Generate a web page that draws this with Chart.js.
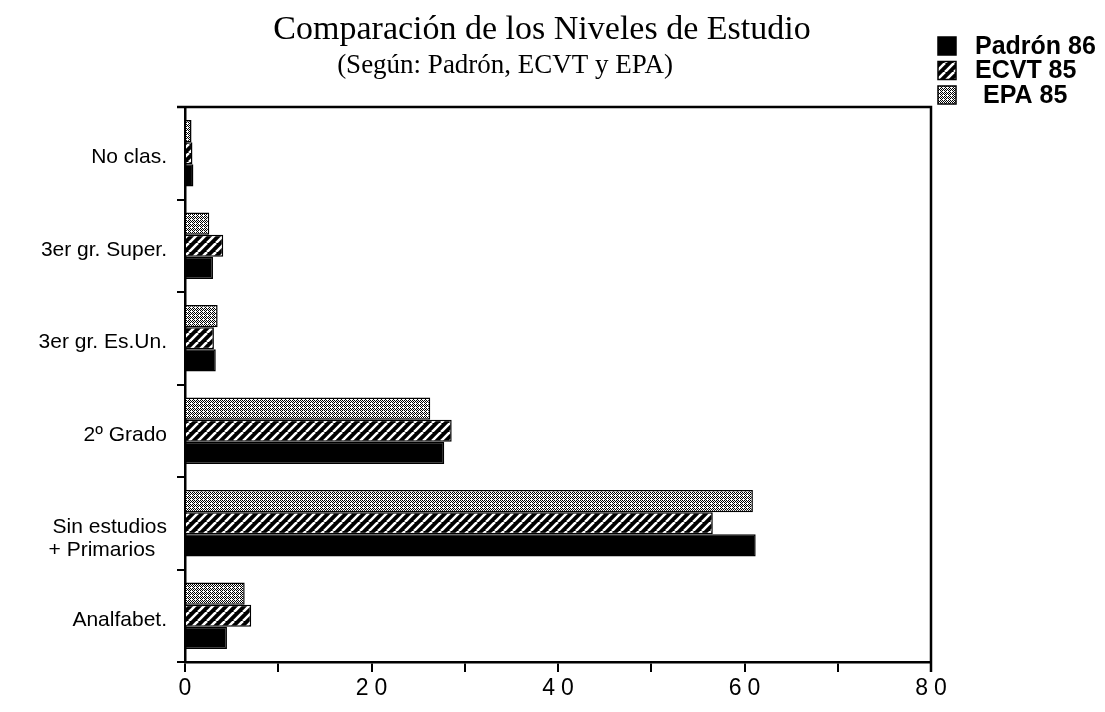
<!DOCTYPE html>
<html>
<head>
<meta charset="utf-8">
<script src="https://cdn.jsdelivr.net/npm/chart.js@4"></script>
<style>
  body { margin: 0; background: #fff; }
</style>
</head>
<body>
<canvas id="myChart" width="1105" height="712"></canvas>
<script>
const categories = ['No clas.', '3er gr. Super.', '3er gr. Es.Un.', '2º Grado', ['', 'Sin estudios', '+ Primarios  '], 'Analfabet.'];
const epa85 = [0.7, 2.6, 3.5, 26.3, 60.9, 6.4];
const ecvt85 = [0.8, 4.1, 3.1, 28.6, 56.6, 7.1];
const padron86 = [0.9, 3.0, 3.3, 27.8, 61.2, 4.5];
const xTicks = [0, 20, 40, 60, 80];

const ctx = document.getElementById('myChart').getContext('2d');

// hatch: white "/" stripes on black
function hatchPattern() {
  const c = document.createElement('canvas');
  c.width = 9; c.height = 9;
  const g = c.getContext('2d');
  g.fillStyle = '#000';
  g.fillRect(0, 0, 9, 9);
  g.strokeStyle = '#fff';
  g.lineWidth = 2.6;
  g.beginPath();
  for (let k = -9; k <= 18; k += 9) {
    g.moveTo(k, 9);
    g.lineTo(k + 9, 0);
  }
  g.stroke();
  return ctx.createPattern(c, 'repeat');
}

// stipple: fine black/white checker
function dotPattern() {
  const c = document.createElement('canvas');
  c.width = 4; c.height = 4;
  const g = c.getContext('2d');
  g.fillStyle = '#fff';
  g.fillRect(0, 0, 4, 4);
  g.fillStyle = '#000';
  g.fillRect(0, 0, 1, 1);
  g.fillRect(2, 0, 1, 1);
  g.fillRect(1, 1, 1, 1);
  g.fillRect(3, 1, 1, 1);
  g.fillRect(0, 2, 1, 1);
  g.fillRect(2, 2, 1, 1);
  g.fillRect(1, 3, 1, 1);
  return ctx.createPattern(c, 'repeat');
}

const framePlugin = {
  id: 'frame',
  afterDatasetsDraw(chart) {
    const a = chart.chartArea;
    const c = chart.ctx;
    c.save();
    c.strokeStyle = '#000';
    c.lineWidth = 2.5;
    c.beginPath();
    c.moveTo(a.left - 8, a.top);
    c.lineTo(a.right, a.top);
    c.lineTo(a.right, a.bottom + 10);
    c.stroke();
    c.restore();
  },
  afterDraw(chart) {
    const c = chart.ctx;
    c.save();
    c.fillStyle = '#000';
    c.textAlign = 'center';
    c.textBaseline = 'middle';
    c.font = '34px "Liberation Serif", "Times New Roman", serif';
    c.fillText('Comparación de los Niveles de Estudio', 542, 30);
    c.font = '27px "Liberation Serif", "Times New Roman", serif';
    c.fillText('(Según: Padrón, ECVT y EPA)', 505, 66);

    // legend, Padrón first
    const order = [2, 1, 0];
    c.textAlign = 'left';
    c.font = 'bold 25px "Liberation Sans", Arial, sans-serif';
    order.forEach((di, i) => {
      const ds = chart.data.datasets[di];
      const y = 37 + i * 24.5;
      c.fillStyle = ds.backgroundColor;
      c.fillRect(938, y, 18, 18);
      c.strokeStyle = '#000';
      c.lineWidth = 1.5;
      c.strokeRect(938, y, 18, 18);
      c.fillStyle = '#000';
      c.fillText(ds.label, di === 0 ? 983 : 975, y + 10);
    });
    c.restore();
  }
};

const chart = new Chart(ctx, {
  type: 'bar',
  data: {
    labels: categories,
    datasets: [
      { label: 'EPA 85', data: epa85, backgroundColor: dotPattern(), borderColor: '#000', borderWidth: 1.5 },
      { label: 'ECVT 85', data: ecvt85, backgroundColor: hatchPattern(), borderColor: '#000', borderWidth: 1.5 },
      { label: 'Padrón 86', data: padron86, backgroundColor: '#000', borderColor: '#000', borderWidth: 1.5 },
    ],
  },
  options: {
    indexAxis: 'y',
    responsive: false,
    animation: false,
    devicePixelRatio: 1,
    layout: { padding: { top: 107, right: 174, left: 0, bottom: 0 } },
    categoryPercentage: 0.72,
    barPercentage: 1.0,
    plugins: {
      legend: { display: false },
      title: { display: false },
      tooltip: { enabled: false },
    },
    scales: {
      x: {
        min: 0,
        max: 80,
        afterFit(scale) { scale.height = 50; },
        ticks: {
          stepSize: 10,
          color: '#000',
          padding: 3,
          maxRotation: 0,
          font: { family: '"Liberation Sans", Arial, sans-serif', size: 23 },
          callback: (v) => (xTicks.includes(v) ? String(v) : ''),
        },
        grid: { drawOnChartArea: false, drawTicks: true, tickLength: 10, color: '#000', lineWidth: 2 },
        border: { display: true, color: '#000', width: 2.5 },
      },
      y: {
        afterFit(scale) { scale.width = 185; },
        ticks: {
          color: '#000',
          padding: 10,
          labelOffset: 4,
          font: { family: '"Liberation Sans", Arial, sans-serif', size: 21, lineHeight: 1.1 },
        },
        grid: { drawOnChartArea: false, drawTicks: true, tickLength: 8, color: '#000', lineWidth: 2, offset: true },
        border: { display: true, color: '#000', width: 2.5 },
      },
    },
  },
  plugins: [framePlugin],
});

// wide spacing on the bottom numbers like the original
const xs = chart.scales.x;
const origLabels = xs.drawLabels;
xs.drawLabels = function (area) {
  this.ctx.save();
  this.ctx.letterSpacing = '6px';
  this.ctx.translate(3, 0);
  origLabels.call(this, area);
  this.ctx.restore();
};
chart.draw();
</script>
</body>
</html>
